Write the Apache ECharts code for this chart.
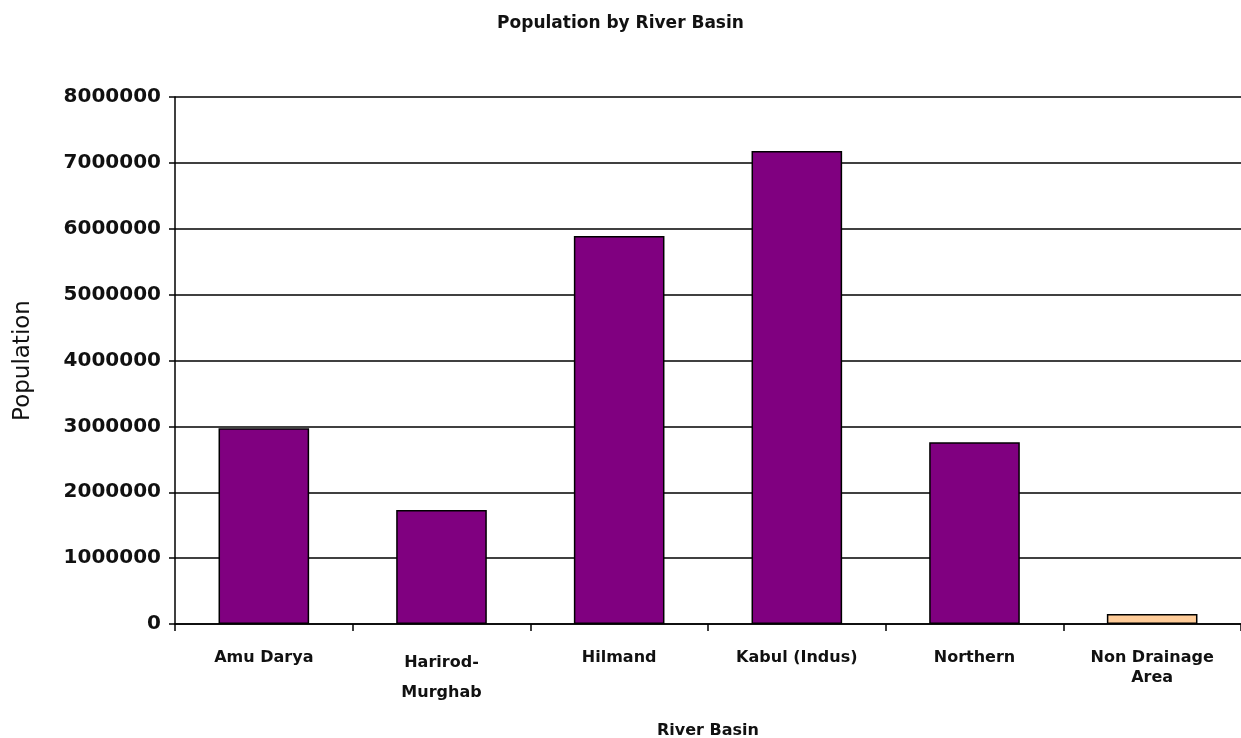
<!DOCTYPE html>
<html><head><meta charset="utf-8">
<script src="https://cdn.jsdelivr.net/npm/echarts@6/dist/echarts.min.js"></script>
<style>html,body{margin:0;padding:0;background:#fff}#c{width:1241px;height:738px}</style>
</head><body><div id="c"></div>
<script>
const categories = ['Amu Darya', 'Harirod-\nMurghab', 'Hilmand', 'Kabul (Indus)', 'Northern', 'Non Drainage\nArea'];
const population = [2970000, 1730000, 5890000, 7180000, 2760000, 150000];
const barColors = ['#800080', '#800080', '#800080', '#800080', '#800080', '#FFCC99'];
const yTicks = { min: 0, max: 8000000, interval: 1000000 };

const font = 'DejaVu Sans, sans-serif';
const chart = echarts.init(document.getElementById('c'));
chart.setOption({
  backgroundColor: '#fff',
  animation: false,
  title: {
    text: 'Population by River Basin', left: 'center', top: 10,
    textStyle: { fontFamily: font, fontSize: 17, fontWeight: 'bold', color: '#111' }
  },
  grid: { left: 175, right: 0, top: 97, bottom: 114, outerBoundsMode: 'none', containLabel: false },
  xAxis: {
    type: 'category',
    data: categories.map(c => c.startsWith('Harirod') ? { value: c, textStyle: { lineHeight: 30 } } : c),
    name: 'River Basin', nameLocation: 'middle', nameGap: 99,
    nameTextStyle: { fontFamily: font, fontSize: 16, fontWeight: 'bold', color: '#111' },
    axisLine: { lineStyle: { color: '#000', width: 1.5 } },
    axisTick: { show: true, length: 7, lineStyle: { color: '#000', width: 1.5 } },
    axisLabel: { fontFamily: font, fontSize: 16, fontWeight: 'bold', color: '#111', margin: 24, lineHeight: 20 }
  },
  yAxis: {
    type: 'value', min: yTicks.min, max: yTicks.max, interval: yTicks.interval,
    name: 'Population', nameLocation: 'middle', nameGap: 140,
    nameTextStyle: { fontFamily: font, fontSize: 23, color: '#111' },
    axisLine: { show: true, lineStyle: { color: '#000', width: 1.5 } },
    axisTick: { show: true, length: 6, lineStyle: { color: '#000', width: 1.5 } },
    axisLabel: { fontFamily: font, fontSize: 20, fontWeight: 'bold', color: '#111', margin: 14, formatter: v => String(v) },
    splitLine: { show: true, lineStyle: { color: '#000', width: 1.5 } }
  },
  series: [{
    type: 'bar', barWidth: '51%',
    data: population.map((v, i) => ({ value: v, itemStyle: { color: barColors[i] } })),
    itemStyle: { borderColor: '#000', borderWidth: 1.5 }
  }]
});
</script></body></html>
